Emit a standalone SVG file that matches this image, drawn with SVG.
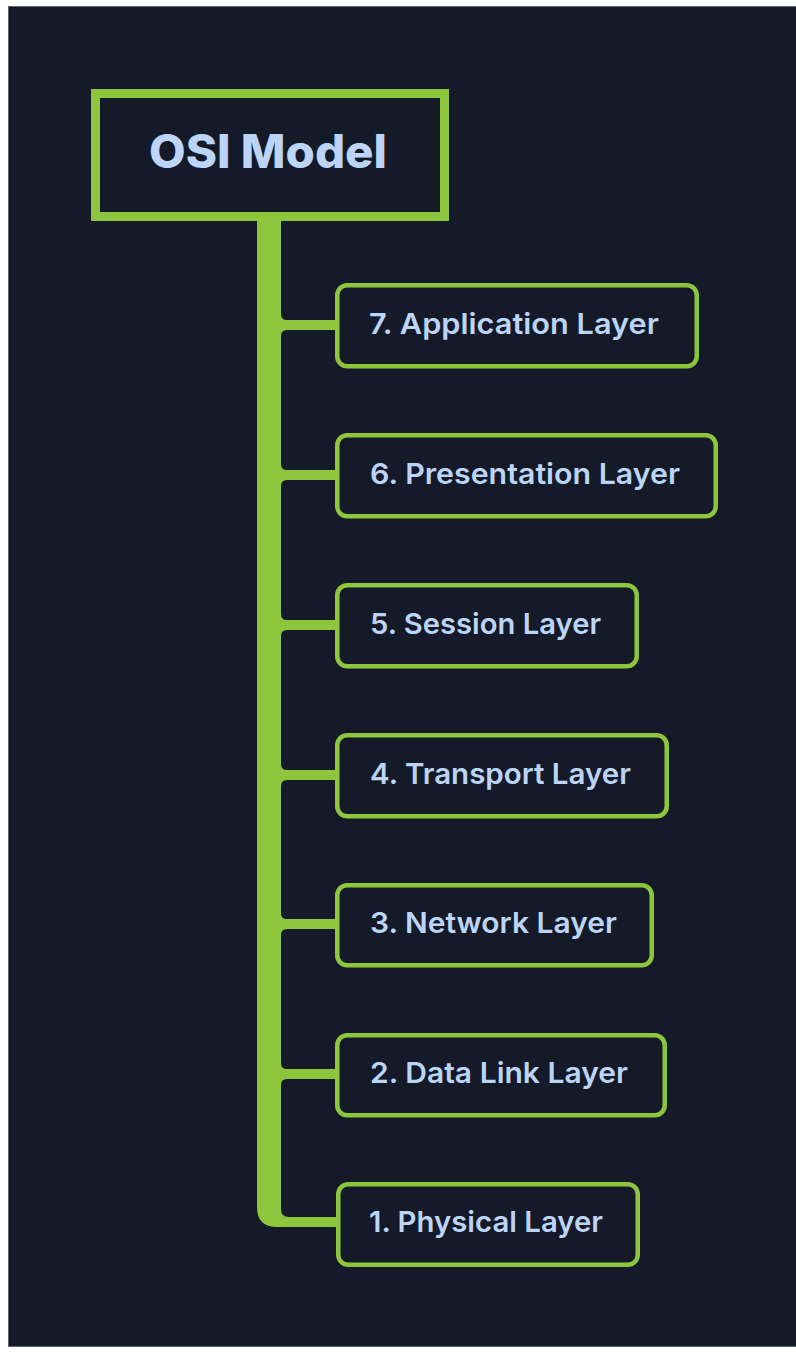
<svg xmlns="http://www.w3.org/2000/svg" width="796" height="1352" viewBox="0 0 796 1352">
<style>
.bg{fill:#141a27}
.node rect{fill:#141a27;stroke:#8dc63d;stroke-width:4.5}
.node text{font-family:Inter,"Open Sans","Liberation Sans",sans-serif;font-size:29px;font-weight:600;fill:#bcd5f7}
.root rect{fill:#141a27;stroke:#8dc63d;stroke-width:9}
.root text{font-family:Inter,"Open Sans","Liberation Sans",sans-serif;font-size:46px;font-weight:800;fill:#bcd5f7}
.conn path{fill:#8dc63d}
</style>
<rect x="0" y="0" width="796" height="1352" fill="#ffffff"/>
<rect class="bg" x="8" y="6" width="788" height="1341"/>
<path d="M8.5 1347 V6.5 H796" fill="none" stroke="#5f6470" stroke-width="1"/>
<path d="M8 1346.5 H796" fill="none" stroke="#5f6470" stroke-width="1"/>
<g id="connectors" class="conn">
<path d="M257 219 H281 V1209 Q281 1217 289 1217 H338 V1227 H277 Q257 1227 257 1207 Z"/>
<path d="M281 314 Q281 320 287 320 H338 V330 H287 Q281 330 281 336 Z"/>
<path d="M281 464 Q281 470 287 470 H338 V480 H287 Q281 480 281 486 Z"/>
<path d="M281 614 Q281 620 287 620 H338 V630 H287 Q281 630 281 636 Z"/>
<path d="M281 764 Q281 770 287 770 H338 V780 H287 Q281 780 281 786 Z"/>
<path d="M281 913 Q281 919 287 919 H338 V929 H287 Q281 929 281 935 Z"/>
<path d="M281 1063 Q281 1069 287 1069 H338 V1079 H287 Q281 1079 281 1085 Z"/>
</g>
<g id="osi-model" class="root">
<rect x="95.5" y="93.5" width="349" height="123"/>
<text x="149" y="168" textLength="238" lengthAdjust="spacingAndGlyphs">OSI Model</text>
</g>
<g id="layer7" class="node">
<rect x="337.25" y="285.25" width="359.5" height="81" rx="10"/>
<text x="369" y="334" textLength="290" lengthAdjust="spacingAndGlyphs">7. Application Layer</text>
</g>
<g id="layer6" class="node">
<rect x="337.25" y="435.25" width="378.5" height="81" rx="10"/>
<text x="370" y="484" textLength="310" lengthAdjust="spacingAndGlyphs">6. Presentation Layer</text>
</g>
<g id="layer5" class="node">
<rect x="337.25" y="585.25" width="299.5" height="81" rx="10"/>
<text x="370" y="634" textLength="231" lengthAdjust="spacingAndGlyphs">5. Session Layer</text>
</g>
<g id="layer4" class="node">
<rect x="337.25" y="735.25" width="329.5" height="81" rx="10"/>
<text x="370" y="784" textLength="261" lengthAdjust="spacingAndGlyphs">4. Transport Layer</text>
</g>
<g id="layer3" class="node">
<rect x="337.25" y="885.25" width="314.5" height="80" rx="10"/>
<text x="370" y="933" textLength="247" lengthAdjust="spacingAndGlyphs">3. Network Layer</text>
</g>
<g id="layer2" class="node">
<rect x="337.25" y="1035.25" width="327.5" height="80" rx="10"/>
<text x="370" y="1083" textLength="258" lengthAdjust="spacingAndGlyphs">2. Data Link Layer</text>
</g>
<g id="layer1" class="node">
<rect x="338.25" y="1184.25" width="299.5" height="80.5" rx="10"/>
<text x="369" y="1232" textLength="234" lengthAdjust="spacingAndGlyphs">1. Physical Layer</text>
</g>
</svg>
